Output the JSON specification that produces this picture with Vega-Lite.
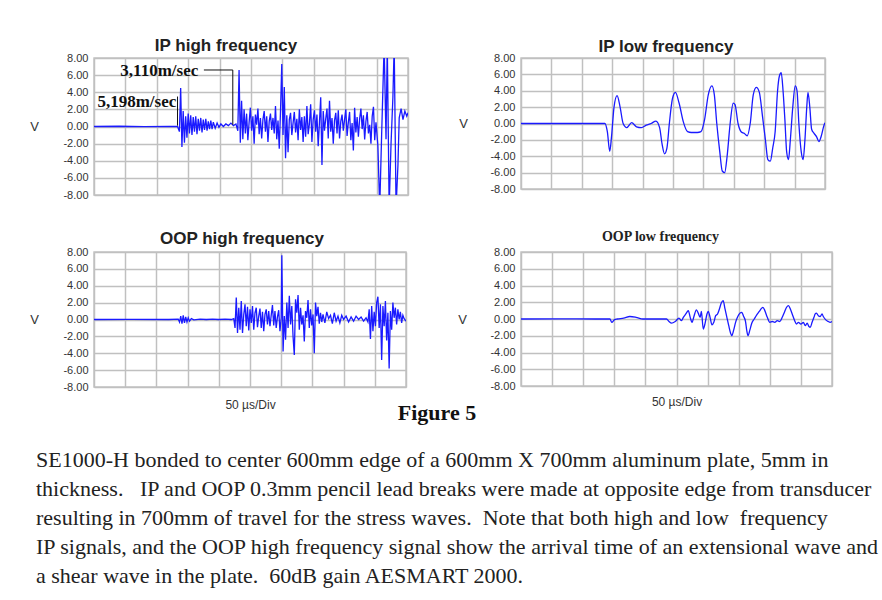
{
  "$schema": "https://vega.github.io/schema/vega-lite/v6.json",
  "padding": {"left": 28, "top": 36, "right": 0, "bottom": 0},
  "background": "white",
  "config": {
    "view": {"stroke": "#c4c4c4", "strokeWidth": 1.5},
    "axis": {"grid": true, "gridColor": "#c0c0c0", "gridWidth": 1.5, "ticks": false, "domain": false, "labelFont": "Liberation Sans", "labelFontSize": 11, "labelColor": "#333", "titleFont": "Liberation Sans", "titleFontWeight": "normal", "titleColor": "#333"},
    "title": {"font": "Liberation Sans", "fontSize": 17, "fontWeight": "bold", "color": "#222", "anchor": "middle", "frame": "group"},
    "line": {"color": "#1a1aff", "strokeWidth": 1.3}
  },
  "datasets": {
    "iph": [
      {"t":0,"v":0},{"t":40,"v":0.03},{"t":80,"v":-0.02},{"t":120,"v":0.02},{"t":133,"v":0},{"t":136,"v":-0.6},{"t":138,"v":4.5},{"t":140,"v":-2.4},{"t":142,"v":1.8},{"t":144,"v":-1.9},{"t":146,"v":1.2},{"t":148,"v":-1.3},{"t":150,"v":1.5},{"t":152,"v":-0.8},{"t":154,"v":1.3},{"t":156,"v":-1.0},{"t":158,"v":1.1},{"t":160,"v":-0.6},{"t":162,"v":1.2},{"t":164,"v":-0.9},{"t":166,"v":0.9},{"t":168,"v":-0.5},{"t":170,"v":1.0},{"t":172,"v":-0.7},{"t":174,"v":0.8},{"t":176,"v":-0.4},{"t":178,"v":0.9},{"t":180,"v":-0.5},{"t":182,"v":0.6},{"t":184,"v":-0.3},{"t":186,"v":0.7},{"t":188,"v":-0.3},{"t":190,"v":0.5},{"t":193,"v":-0.2},{"t":196,"v":0.4},{"t":199,"v":-0.1},{"t":202,"v":0.3},{"t":206,"v":0.0},{"t":210,"v":0.3},{"t":214,"v":0.1},{"t":218,"v":0.4},{"t":222,"v":0.1},{"t":226,"v":0.3},{"t":229,"v":-0.5},{"t":231,"v":6.6},{"t":233,"v":-1.9},{"t":235,"v":3.0},{"t":237,"v":-1.5},{"t":239,"v":2.0},{"t":241,"v":-0.8},{"t":243,"v":1.5},{"t":245,"v":-1.6},{"t":247,"v":0.5},{"t":249,"v":2.2},{"t":251,"v":-0.5},{"t":253,"v":1.2},{"t":255,"v":-2.0},{"t":257,"v":1.4},{"t":259,"v":0.2},{"t":261,"v":2.1},{"t":263,"v":-0.9},{"t":265,"v":1.0},{"t":267,"v":-1.4},{"t":269,"v":0.8},{"t":271,"v":1.8},{"t":273,"v":-0.6},{"t":275,"v":1.2},{"t":277,"v":-1.8},{"t":279,"v":0.6},{"t":281,"v":1.5},{"t":283,"v":-0.4},{"t":285,"v":1.0},{"t":287,"v":-0.8},{"t":289,"v":2.4},{"t":291,"v":-1.5},{"t":293,"v":0.7},{"t":295,"v":-2.6},{"t":297,"v":1.8},{"t":299,"v":7.3},{"t":301,"v":-1.0},{"t":303,"v":4.6},{"t":305,"v":-3.7},{"t":307,"v":1.3},{"t":309,"v":-3.0},{"t":311,"v":0.8},{"t":313,"v":1.6},{"t":315,"v":-1.0},{"t":317,"v":0.4},{"t":319,"v":1.7},{"t":321,"v":-0.7},{"t":323,"v":0.9},{"t":325,"v":-1.6},{"t":327,"v":2.0},{"t":329,"v":-0.4},{"t":331,"v":1.1},{"t":333,"v":-1.8},{"t":335,"v":1.2},{"t":337,"v":-1.2},{"t":339,"v":2.4},{"t":341,"v":-0.9},{"t":343,"v":0.3},{"t":345,"v":2.6},{"t":347,"v":-1.8},{"t":349,"v":0.8},{"t":351,"v":1.9},{"t":353,"v":-0.6},{"t":355,"v":1.4},{"t":357,"v":-2.3},{"t":359,"v":0.5},{"t":361,"v":3.4},{"t":363,"v":-4.5},{"t":365,"v":1.8},{"t":367,"v":-0.5},{"t":369,"v":0.9},{"t":371,"v":2.1},{"t":373,"v":-1.4},{"t":375,"v":3.0},{"t":377,"v":-0.6},{"t":379,"v":1.0},{"t":381,"v":-2.0},{"t":383,"v":0.7},{"t":385,"v":1.6},{"t":387,"v":-0.8},{"t":389,"v":1.9},{"t":391,"v":-1.4},{"t":393,"v":0.6},{"t":395,"v":1.4},{"t":397,"v":-0.5},{"t":399,"v":0.8},{"t":401,"v":2.0},{"t":403,"v":-1.1},{"t":405,"v":0.5},{"t":407,"v":1.7},{"t":409,"v":-1.6},{"t":411,"v":0.4},{"t":413,"v":-2.8},{"t":415,"v":2.2},{"t":417,"v":-0.7},{"t":419,"v":1.1},{"t":421,"v":-1.2},{"t":423,"v":0.9},{"t":425,"v":2.1},{"t":427,"v":-0.3},{"t":429,"v":1.3},{"t":431,"v":-1.5},{"t":433,"v":0.6},{"t":435,"v":1.7},{"t":437,"v":-0.8},{"t":439,"v":0.2},{"t":441,"v":-2.0},{"t":443,"v":1.2},{"t":445,"v":2.3},{"t":447,"v":-1.6},{"t":449,"v":0.5},{"t":452,"v":-2.2},{"t":455,"v":-9.5},{"t":458,"v":-1.0},{"t":462,"v":9.5},{"t":465,"v":-1.5},{"t":467,"v":9.5},{"t":470,"v":-9.5},{"t":473,"v":-2.0},{"t":476,"v":3.5},{"t":478,"v":9.5},{"t":481,"v":-9.5},{"t":484,"v":-4.5},{"t":486,"v":1.0},{"t":489,"v":2.1},{"t":492,"v":0.8},{"t":495,"v":1.8},{"t":498,"v":1.2},{"t":500,"v":1.6}
    ],
    "iph_rules": [
      {"t":221,"t2":221,"v":6.6,"v2":0.2},
      {"t":175,"t2":221,"v":6.6,"v2":6.6},
      {"t":133,"t2":133,"v":3.5,"v2":0.1}
    ],
    "iph_labels": [
      {"t":166,"v":6.5,"label":"3,110m/sec"},
      {"t":131,"v":2.9,"label":"5,198m/sec"}
    ],
    "ipl": [
      {"t":0,"v":0},{"t":100,"v":0},{"t":138,"v":0},{"t":142,"v":-1.0},{"t":146,"v":-3.4},{"t":149,"v":-1.5},{"t":153,"v":2.0},{"t":158,"v":3.4},{"t":163,"v":2.0},{"t":168,"v":0.0},{"t":174,"v":-0.5},{"t":182,"v":0.1},{"t":190,"v":-0.4},{"t":198,"v":-0.5},{"t":206,"v":-0.2},{"t":214,"v":0.0},{"t":222,"v":0.3},{"t":228,"v":-0.5},{"t":232,"v":-2.5},{"t":236,"v":-3.7},{"t":240,"v":-3.0},{"t":244,"v":0.0},{"t":249,"v":3.0},{"t":254,"v":3.8},{"t":260,"v":2.5},{"t":267,"v":0.2},{"t":274,"v":-1.0},{"t":280,"v":-1.1},{"t":290,"v":-1.1},{"t":296,"v":-1.0},{"t":302,"v":0.5},{"t":308,"v":3.5},{"t":314,"v":4.6},{"t":318,"v":3.5},{"t":322,"v":0.0},{"t":327,"v":-3.5},{"t":331,"v":-5.8},{"t":335,"v":-6.0},{"t":339,"v":-4.0},{"t":344,"v":0.0},{"t":349,"v":2.5},{"t":352,"v":2.3},{"t":357,"v":0.0},{"t":362,"v":-1.0},{"t":367,"v":-1.2},{"t":372,"v":-1.5},{"t":377,"v":0.0},{"t":382,"v":3.5},{"t":387,"v":4.4},{"t":392,"v":3.8},{"t":397,"v":1.0},{"t":402,"v":-2.0},{"t":406,"v":-4.4},{"t":410,"v":-4.6},{"t":414,"v":-3.0},{"t":418,"v":-1.0},{"t":422,"v":4.0},{"t":425,"v":5.8},{"t":428,"v":6.2},{"t":431,"v":4.0},{"t":434,"v":0.5},{"t":437,"v":-3.5},{"t":440,"v":-4.4},{"t":443,"v":-2.0},{"t":447,"v":2.0},{"t":451,"v":4.6},{"t":454,"v":4.0},{"t":457,"v":0.0},{"t":461,"v":-3.5},{"t":464,"v":-4.4},{"t":467,"v":-2.0},{"t":470,"v":2.0},{"t":472,"v":3.8},{"t":475,"v":2.0},{"t":478,"v":-0.7},{"t":482,"v":-1.2},{"t":486,"v":-1.6},{"t":490,"v":-2.2},{"t":494,"v":-1.5},{"t":498,"v":-0.3},{"t":500,"v":0.1}
    ],
    "oph": [
      {"t":0,"v":0},{"t":60,"v":0.02},{"t":120,"v":0},{"t":135,"v":0.05},{"t":137,"v":-0.3},{"t":139,"v":0.4},{"t":141,"v":-0.5},{"t":143,"v":0.5},{"t":145,"v":-0.4},{"t":147,"v":0.3},{"t":149,"v":-0.3},{"t":151,"v":0.2},{"t":153,"v":-0.2},{"t":156,"v":0.1},{"t":160,"v":-0.05},{"t":170,"v":0.05},{"t":180,"v":0},{"t":190,"v":0.05},{"t":200,"v":0},{"t":210,"v":0.05},{"t":220,"v":0},{"t":224,"v":0.1},{"t":226,"v":-1.0},{"t":228,"v":2.6},{"t":230,"v":-1.6},{"t":232,"v":1.4},{"t":234,"v":-1.2},{"t":236,"v":2.2},{"t":238,"v":-1.6},{"t":240,"v":0.6},{"t":242,"v":1.8},{"t":244,"v":-0.8},{"t":246,"v":1.5},{"t":248,"v":-1.3},{"t":250,"v":1.2},{"t":252,"v":-0.4},{"t":254,"v":1.6},{"t":256,"v":-1.2},{"t":258,"v":0.8},{"t":260,"v":1.4},{"t":262,"v":-0.9},{"t":264,"v":0.4},{"t":266,"v":1.3},{"t":268,"v":-1.0},{"t":270,"v":0.9},{"t":272,"v":-1.4},{"t":274,"v":0.6},{"t":276,"v":1.2},{"t":278,"v":-0.6},{"t":280,"v":1.0},{"t":282,"v":-0.8},{"t":284,"v":0.5},{"t":286,"v":1.7},{"t":288,"v":-0.7},{"t":290,"v":1.0},{"t":292,"v":-1.0},{"t":294,"v":0.3},{"t":296,"v":1.1},{"t":298,"v":-1.4},{"t":300,"v":0.2},{"t":301,"v":7.6},{"t":303,"v":-3.8},{"t":305,"v":0.4},{"t":307,"v":-2.4},{"t":309,"v":2.0},{"t":311,"v":-1.0},{"t":313,"v":2.8},{"t":315,"v":-0.6},{"t":317,"v":1.6},{"t":319,"v":-2.0},{"t":321,"v":-4.2},{"t":323,"v":2.4},{"t":325,"v":0.8},{"t":327,"v":2.9},{"t":329,"v":-1.2},{"t":331,"v":1.4},{"t":333,"v":-0.6},{"t":335,"v":0.5},{"t":337,"v":-2.6},{"t":339,"v":1.0},{"t":341,"v":0.2},{"t":343,"v":2.3},{"t":345,"v":-1.0},{"t":347,"v":1.2},{"t":349,"v":-0.7},{"t":351,"v":0.6},{"t":353,"v":-4.0},{"t":355,"v":2.0},{"t":357,"v":0.4},{"t":359,"v":1.5},{"t":361,"v":-0.5},{"t":363,"v":0.8},{"t":365,"v":-0.3},{"t":367,"v":0.6},{"t":370,"v":-0.4},{"t":373,"v":0.9},{"t":376,"v":0.1},{"t":379,"v":0.5},{"t":382,"v":-0.5},{"t":385,"v":0.8},{"t":388,"v":-0.2},{"t":391,"v":0.4},{"t":394,"v":-0.4},{"t":397,"v":0.5},{"t":400,"v":0.0},{"t":404,"v":0.4},{"t":408,"v":-0.3},{"t":412,"v":0.3},{"t":416,"v":-0.2},{"t":420,"v":0.4},{"t":424,"v":0.0},{"t":428,"v":0.3},{"t":432,"v":-0.2},{"t":436,"v":0.2},{"t":439,"v":-0.3},{"t":441,"v":1.2},{"t":443,"v":-2.3},{"t":445,"v":1.6},{"t":447,"v":-1.4},{"t":449,"v":0.9},{"t":451,"v":-0.8},{"t":453,"v":2.0},{"t":455,"v":2.7},{"t":457,"v":-1.0},{"t":459,"v":1.8},{"t":461,"v":-4.8},{"t":463,"v":1.6},{"t":465,"v":-0.8},{"t":467,"v":2.2},{"t":469,"v":-2.5},{"t":471,"v":0.8},{"t":473,"v":-5.8},{"t":475,"v":1.0},{"t":477,"v":-1.2},{"t":479,"v":2.0},{"t":481,"v":0.2},{"t":483,"v":1.4},{"t":485,"v":-0.6},{"t":487,"v":1.2},{"t":489,"v":0.0},{"t":491,"v":0.9},{"t":493,"v":-0.4},{"t":495,"v":0.5},{"t":497,"v":0.1},{"t":500,"v":-0.2}
    ],
    "opl": [
      {"t":0,"v":0},{"t":60,"v":0.02},{"t":120,"v":0},{"t":143,"v":0},{"t":146,"v":-0.4},{"t":150,"v":-0.1},{"t":155,"v":0},{"t":165,"v":0.1},{"t":175,"v":0.3},{"t":185,"v":0.2},{"t":196,"v":0},{"t":215,"v":0},{"t":234,"v":0},{"t":238,"v":-0.3},{"t":242,"v":-0.5},{"t":248,"v":-0.3},{"t":254,"v":0.1},{"t":258,"v":-0.2},{"t":261,"v":0.2},{"t":265,"v":0.6},{"t":269,"v":1.0},{"t":272,"v":0.2},{"t":275,"v":-0.4},{"t":278,"v":0.3},{"t":282,"v":1.1},{"t":285,"v":0.7},{"t":288,"v":0.2},{"t":290,"v":0.9},{"t":293,"v":-1.2},{"t":296,"v":-0.5},{"t":299,"v":0.6},{"t":301,"v":0.9},{"t":304,"v":0.2},{"t":307,"v":-0.7},{"t":310,"v":-0.4},{"t":313,"v":0.4},{"t":316,"v":0.6},{"t":319,"v":1.2},{"t":322,"v":1.9},{"t":325,"v":2.2},{"t":328,"v":1.2},{"t":331,"v":0.2},{"t":334,"v":-0.8},{"t":337,"v":-1.7},{"t":339,"v":-2.0},{"t":342,"v":-1.3},{"t":345,"v":-0.4},{"t":348,"v":0.2},{"t":352,"v":0.7},{"t":355,"v":0.8},{"t":358,"v":0.3},{"t":361,"v":-0.3},{"t":363,"v":-1.4},{"t":365,"v":-2.0},{"t":368,"v":-1.3},{"t":371,"v":-0.5},{"t":375,"v":0.0},{"t":379,"v":0.5},{"t":383,"v":0.9},{"t":387,"v":1.3},{"t":389,"v":1.4},{"t":392,"v":1.0},{"t":396,"v":0.2},{"t":400,"v":-0.4},{"t":404,"v":-0.3},{"t":408,"v":-0.4},{"t":412,"v":-0.2},{"t":416,"v":-0.3},{"t":420,"v":0.2},{"t":424,"v":0.9},{"t":427,"v":1.4},{"t":430,"v":1.6},{"t":433,"v":1.2},{"t":436,"v":0.6},{"t":440,"v":-0.2},{"t":443,"v":-0.6},{"t":446,"v":-0.4},{"t":450,"v":-0.6},{"t":454,"v":-0.4},{"t":457,"v":-0.8},{"t":460,"v":-0.5},{"t":463,"v":-0.9},{"t":465,"v":-1.0},{"t":468,"v":-0.4},{"t":471,"v":0.2},{"t":473,"v":0.6},{"t":475,"v":0.7},{"t":478,"v":0.4},{"t":481,"v":0.3},{"t":484,"v":0.6},{"t":486,"v":0.3},{"t":490,"v":-0.1},{"t":494,"v":-0.3},{"t":497,"v":-0.4},{"t":500,"v":-0.3}
    ],
    "caption": [
      {"line":1,"text":"SE1000-H bonded to center 600mm edge of a 600mm X 700mm aluminum plate, 5mm in"},
      {"line":2,"text":"thickness.\u00a0\u00a0 IP and OOP 0.3mm pencil lead breaks were made at opposite edge from transducer"},
      {"line":3,"text":"resulting in 700mm of travel for the stress waves.\u00a0 Note that both high and low\u00a0 frequency"},
      {"line":4,"text":"IP signals, and the OOP high frequency signal show the arrival time of an extensional wave and"},
      {"line":5,"text":"a shear wave in the plate.\u00a0 60dB gain AESMART 2000."}
    ]
  },
  "spacing": -9,
  "vconcat": [
    {
      "spacing": 28,
      "vconcat": [
        {
          "spacing": 48,
          "hconcat": [
            {
              "width": 314, "height": 137,
              "title": {"text": "IP high frequency", "offset": -3, "dx": -25},
              "layer": [
                {
                  "data": {"name": "iph"},
                  "mark": {"type": "line", "clip": true},
                  "encoding": {
                    "x": {"field": "t", "type": "quantitative", "scale": {"domain": [0, 500], "nice": false}, "axis": {"values": [0,50,100,150,200,250,300,350,400,450,500], "labels": false, "title": null}},
                    "y": {"field": "v", "type": "quantitative", "scale": {"domain": [-8, 8], "nice": false}, "axis": {"values": [-8,-6,-4,-2,0,2,4,6,8], "labelExpr": "replace(format(datum.value, '.2f'), '\u2212', '-')", "labelPadding": 6, "title": "V", "titleAngle": 0, "titleX": -60, "titleY": 68.5, "titleAlign": "center", "titleBaseline": "middle", "titleFontSize": 13}}
                  }
                },
                {
                  "data": {"name": "iph_rules"},
                  "mark": {"type": "rule", "color": "#111", "strokeWidth": 1},
                  "encoding": {
                    "x": {"field": "t", "type": "quantitative", "axis": {"values": [0,50,100,150,200,250,300,350,400,450,500], "labels": false, "title": null}},
                    "x2": {"field": "t2"},
                    "y": {"field": "v", "type": "quantitative", "axis": {"values": [-8,-6,-4,-2,0,2,4,6,8], "labelExpr": "replace(format(datum.value, '.2f'), '\u2212', '-')", "labelPadding": 6, "title": "V", "titleAngle": 0, "titleX": -60, "titleY": 68.5, "titleAlign": "center", "titleBaseline": "middle", "titleFontSize": 13}},
                    "y2": {"field": "v2"}
                  }
                },
                {
                  "data": {"name": "iph_labels"},
                  "mark": {"type": "text", "align": "right", "baseline": "middle", "font": "Liberation Serif", "fontWeight": "bold", "fontSize": 17, "color": "#111"},
                  "encoding": {
                    "x": {"field": "t", "type": "quantitative", "axis": {"values": [0,50,100,150,200,250,300,350,400,450,500], "labels": false, "title": null}},
                    "y": {"field": "v", "type": "quantitative", "axis": {"values": [-8,-6,-4,-2,0,2,4,6,8], "labelExpr": "replace(format(datum.value, '.2f'), '\u2212', '-')", "labelPadding": 6, "title": "V", "titleAngle": 0, "titleX": -60, "titleY": 68.5, "titleAlign": "center", "titleBaseline": "middle", "titleFontSize": 13}},
                    "text": {"field": "label"}
                  }
                }
              ]
            },
            {
              "width": 304, "height": 131,
              "title": {"text": "IP low frequency", "offset": -4, "dx": -7},
              "data": {"name": "ipl"},
              "mark": {"type": "line", "interpolate": "monotone", "clip": true},
              "encoding": {
                "x": {"field": "t", "type": "quantitative", "scale": {"domain": [0, 500], "nice": false}, "axis": {"values": [0,50,100,150,200,250,300,350,400,450,500], "labels": false, "title": null}},
                "y": {"field": "v", "type": "quantitative", "scale": {"domain": [-8, 8], "nice": false}, "axis": {"values": [-8,-6,-4,-2,0,2,4,6,8], "labelExpr": "replace(format(datum.value, '.2f'), '\u2212', '-')", "labelPadding": 6, "title": "V", "titleAngle": 0, "titleX": -58, "titleY": 65.5, "titleAlign": "center", "titleBaseline": "middle", "titleFontSize": 13}}
              }
            }
          ]
        },
        {
          "spacing": 49,
          "hconcat": [
            {
              "width": 312, "height": 135,
              "title": {"text": "OOP high frequency", "offset": -2, "dx": -8},
              "data": {"name": "oph"},
              "mark": {"type": "line", "clip": true},
              "encoding": {
                "x": {"field": "t", "type": "quantitative", "scale": {"domain": [0, 500], "nice": false}, "axis": {"values": [0,50,100,150,200,250,300,350,400,450,500], "labels": false, "title": "50 \u00b5s/Div", "titlePadding": 12, "titleFontSize": 12}},
                "y": {"field": "v", "type": "quantitative", "scale": {"domain": [-8, 8], "nice": false}, "axis": {"values": [-8,-6,-4,-2,0,2,4,6,8], "labelExpr": "replace(format(datum.value, '.2f'), '\u2212', '-')", "labelPadding": 6, "title": "V", "titleAngle": 0, "titleX": -60, "titleY": 67.5, "titleAlign": "center", "titleBaseline": "middle", "titleFontSize": 13}}
              }
            },
            {
              "width": 311, "height": 134,
              "title": {"text": "OOP low frequency", "offset": 2, "dx": -16, "font": "Liberation Serif", "fontSize": 14},
              "data": {"name": "opl"},
              "mark": {"type": "line", "interpolate": "monotone", "clip": true},
              "encoding": {
                "x": {"field": "t", "type": "quantitative", "scale": {"domain": [0, 500], "nice": false}, "axis": {"values": [0,50,100,150,200,250,300,350,400,450,500], "labels": false, "title": "50 \u00b5s/Div", "titlePadding": 10, "titleFontSize": 12}},
                "y": {"field": "v", "type": "quantitative", "scale": {"domain": [-8, 8], "nice": false}, "axis": {"values": [-8,-6,-4,-2,0,2,4,6,8], "labelExpr": "replace(format(datum.value, '.2f'), '\u2212', '-')", "labelPadding": 6, "title": "V", "titleAngle": 0, "titleX": -59, "titleY": 67, "titleAlign": "center", "titleBaseline": "middle", "titleFontSize": 13}}
              }
            }
          ]
        }
      ]
    },
    {
      "width": 780, "height": 144,
      "view": {"stroke": null},
      "title": {"text": "Figure 5", "font": "Liberation Serif", "fontSize": 22, "fontWeight": "bold", "color": "#111", "offset": 21, "dx": -47},
      "data": {"name": "caption"},
      "mark": {"type": "text", "align": "left", "baseline": "middle", "font": "Liberation Serif", "fontSize": 22, "color": "#222", "dx": -58, "limit": 848, "ellipsis": ""},
      "encoding": {
        "x": {"value": 0},
        "y": {"field": "line", "type": "ordinal", "axis": null},
        "text": {"field": "text"}
      }
    }
  ]
}
